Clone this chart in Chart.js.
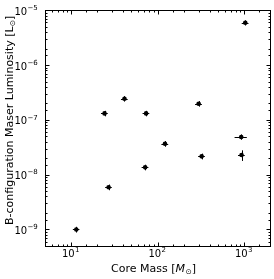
<!DOCTYPE html>
<html><head><meta charset="utf-8">
<script src="https://cdn.jsdelivr.net/npm/chart.js@4"></script>
<style>html,body{margin:0;padding:0;background:#fff;overflow:hidden}</style>
</head><body>
<canvas id="c" width="274" height="279" style="width:274px;height:279px;display:block"></canvas>
<script>
// Data
const coreMass    = [11.5, 24.4, 27.2, 41.5, 72, 73.8, 122, 299, 324, 929, 937, 1035];
const coreMassErr = [1.0, 2.2, 2.4, 3.7, 6.5, 6.6, 11, 27, 29, 150, 84, 93];
const maserLum    = [1.0e-9, 1.31e-7, 5.9e-9, 2.43e-7, 1.36e-8, 1.31e-7, 3.67e-8, 1.97e-7, 2.16e-8, 4.88e-8, 2.28e-8, 5.9e-6];
const maserLumErr = [0.12e-9, 0.15e-7, 0.7e-9, 0.28e-7, 0.16e-8, 0.15e-7, 0.44e-8, 0.23e-7, 0.26e-8, 0.55e-8, 0.5e-8, 0.65e-6];
const xTickValues = [10, 100, 1000];
const xTickExps   = ['1', '2', '3'];
const yTickValues = [1e-9, 1e-8, 1e-7, 1e-6, 1e-5];
const yTickExps   = ['−9', '−8', '−7', '−6', '−5'];
const xTitleParts = [['Core Mass [', 'n'], ['M', 'i'], ['⊙', 's'], [']', 'n']];
const yTitleParts = [['B-configuration Maser Luminosity [L', 'n'], ['⊙', 's'], [']', 'n']];

const FAM = 'DejaVu Sans';
const BASE_F = '10px "' + FAM + '"';
const SUP_F = '7px "' + FAM + '"';
const TITLE_F = '11px "' + FAM + '"';
const TITLE_I = 'italic 11px "' + FAM + '"';
const TITLE_S = '7.5px "' + FAM + '"';

function tickLabelWidth(ctx, exp) {
  ctx.font = BASE_F; const w1 = ctx.measureText('10').width;
  ctx.font = SUP_F; const w2 = ctx.measureText(exp).width;
  return [w1, w2];
}
function drawTickLabel(ctx, exp, x, baseY) {
  const [w1] = tickLabelWidth(ctx, exp);
  ctx.font = BASE_F; ctx.fillText('10', x, baseY);
  ctx.font = SUP_F; ctx.fillText(exp, x + w1 + 0.3, baseY - 4.8);
}
function drawTitle(ctx, parts, x, y) {
  let cx = x;
  parts.forEach(([t, k]) => {
    let dy = 0;
    if (k === 'n') ctx.font = TITLE_F;
    else if (k === 'i') ctx.font = TITLE_I;
    else { ctx.font = TITLE_S; dy = 2; }
    ctx.fillText(t, cx, y + dy);
    cx += ctx.measureText(t).width + (k === 'i' ? 0.5 : 0);
  });
}

const framePlugin = {
  id: 'frameAndErr',
  beforeDatasetsDraw(chart) {
    const ctx = chart.ctx, xs = chart.scales.x, ys = chart.scales.y;
    ctx.save();
    ctx.strokeStyle = '#000';
    ctx.lineWidth = 1;
    for (let i = 0; i < coreMass.length; i++) {
      const px = xs.getPixelForValue(coreMass[i]);
      const py = ys.getPixelForValue(maserLum[i]);
      const x1 = xs.getPixelForValue(coreMass[i] - coreMassErr[i]);
      const x2 = xs.getPixelForValue(coreMass[i] + coreMassErr[i]);
      const y1 = ys.getPixelForValue(maserLum[i] - maserLumErr[i]);
      const y2 = ys.getPixelForValue(maserLum[i] + maserLumErr[i]);
      ctx.beginPath();
      ctx.moveTo(x1, Math.round(py) + 0.5); ctx.lineTo(x2, Math.round(py) + 0.5);
      ctx.moveTo(Math.round(px) + 0.5, y1); ctx.lineTo(Math.round(px) + 0.5, y2);
      ctx.stroke();
    }
    ctx.restore();
  },
  afterDraw(chart) {
    const ctx = chart.ctx, a = chart.chartArea;
    const xs = chart.scales.x, ys = chart.scales.y;
    const L = Math.floor(a.left) + 0.5, R = Math.floor(a.right) + 0.5;
    const T = Math.floor(a.top) + 0.5, B = Math.floor(a.bottom) + 0.5;
    ctx.save();
    ctx.strokeStyle = '#000';
    ctx.lineWidth = 1;
    ctx.beginPath();
    xs.ticks.forEach(t => {
      const p = xs.getPixelForValue(t.value);
      if (p < a.left + 1 || p > a.right - 1) return;
      const len = t.major ? 4 : 2;
      const x = Math.round(p) + 0.5;
      ctx.moveTo(x, B); ctx.lineTo(x, B - len);
      ctx.moveTo(x, T); ctx.lineTo(x, T + len);
    });
    ys.ticks.forEach(t => {
      const p = ys.getPixelForValue(t.value);
      if (p < a.top + 1 || p > a.bottom - 1) return;
      const len = t.major ? 4 : 2;
      const y = Math.round(p) + 0.5;
      ctx.moveTo(L, y); ctx.lineTo(L + len, y);
      ctx.moveTo(R, y); ctx.lineTo(R - len, y);
    });
    ctx.stroke();
    ctx.strokeRect(L, T, R - L, B - T);

    // tick labels
    ctx.fillStyle = '#000';
    ctx.textAlign = 'left';
    ctx.textBaseline = 'alphabetic';
    xTickValues.forEach((v, i) => {
      const p = xs.getPixelForValue(v);
      const [w1, w2] = tickLabelWidth(ctx, xTickExps[i]);
      drawTickLabel(ctx, xTickExps[i], p - (w1 + w2) / 2 - 0.5, a.bottom + 10.5);
    });
    yTickValues.forEach((v, i) => {
      const p = ys.getPixelForValue(v);
      const [w1, w2] = tickLabelWidth(ctx, yTickExps[i]);
      drawTickLabel(ctx, yTickExps[i], 37.5 - (w1 + w2), p + 4.5);
    });

    // axis titles
    drawTitle(ctx, xTitleParts, 111, 272);
    ctx.save();
    ctx.translate(12.5, 225);
    ctx.rotate(-Math.PI / 2);
    drawTitle(ctx, yTitleParts, 0, 0);
    ctx.restore();
    ctx.restore();
  }
};

new Chart(document.getElementById('c'), {
  type: 'scatter',
  data: {
    datasets: [{
      data: coreMass.map((m, i) => ({x: m, y: maserLum[i]})),
      backgroundColor: '#000',
      borderWidth: 0,
      pointRadius: 2.3,
      pointHoverRadius: 2.3
    }]
  },
  options: {
    responsive: false,
    animation: false,
    devicePixelRatio: 1,
    layout: {padding: {top: 10, right: 4, left: 0, bottom: 0}},
    plugins: {legend: {display: false}, tooltip: {enabled: false}},
    scales: {
      x: {
        type: 'logarithmic', position: 'bottom', min: 5, max: 2000,
        grid: {display: false, drawTicks: false},
        border: {display: false},
        ticks: {autoSkip: false, maxRotation: 0, callback: () => ''},
        afterFit(s) { s.height = 33; }
      },
      y: {
        type: 'logarithmic', position: 'left', min: 5e-10, max: 1e-5,
        grid: {display: false, drawTicks: false},
        border: {display: false},
        ticks: {autoSkip: false, callback: () => ''},
        afterFit(s) { s.width = 45; }
      }
    }
  },
  plugins: [framePlugin]
});
</script>
</body></html>
